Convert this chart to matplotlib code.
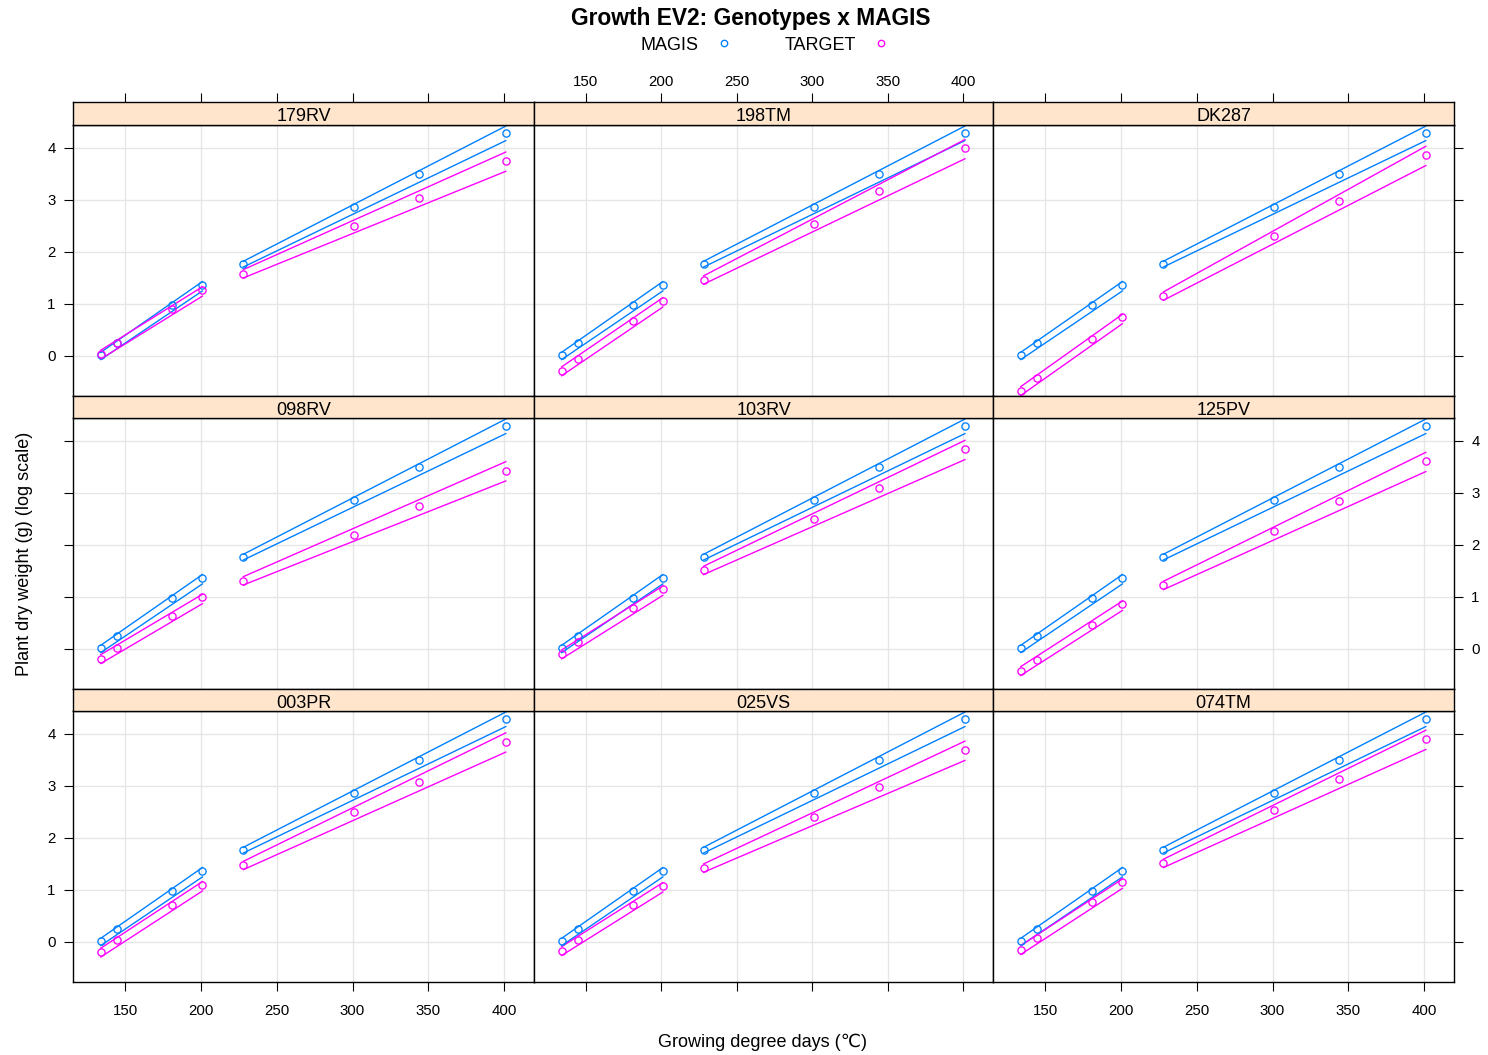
import matplotlib
matplotlib.use("Agg")
import matplotlib.pyplot as plt
from matplotlib import font_manager as fm
import numpy as np

plt.rcParams['font.family'] = ['Liberation Sans', 'DejaVu Sans']

# ---------------- data ----------------
genotypes = ["179RV", "198TM", "DK287",
             "098RV", "103RV", "125PV",
             "003PR", "025VS", "074TM"]
gdd = [134, 145, 181, 201, 228, 301, 344, 401]
magis = [0.02, 0.25, 0.97, 1.37, 1.76, 2.86, 3.49, 4.29]
target_179RV = [0.03, 0.25, 0.90, 1.27, 1.58, 2.50, 3.04, 3.75]
target_198TM = [-0.29, -0.06, 0.67, 1.06, 1.46, 2.53, 3.17, 3.99]
target_DK287 = [-0.67, -0.43, 0.33, 0.74, 1.15, 2.31, 2.97, 3.86]
target_098RV = [-0.19, 0.02, 0.63, 0.99, 1.31, 2.20, 2.75, 3.43]
target_103RV = [-0.10, 0.13, 0.78, 1.15, 1.51, 2.49, 3.09, 3.84]
target_125PV = [-0.42, -0.21, 0.47, 0.86, 1.22, 2.26, 2.84, 3.61]
target_003PR = [-0.20, 0.03, 0.71, 1.10, 1.47, 2.49, 3.08, 3.85]
target_025VS = [-0.17, 0.03, 0.71, 1.08, 1.42, 2.40, 2.97, 3.69]
target_074TM = [-0.15, 0.08, 0.76, 1.15, 1.51, 2.54, 3.13, 3.90]
targets = [target_179RV, target_198TM, target_DK287,
           target_098RV, target_103RV, target_125PV,
           target_003PR, target_025VS, target_074TM]
# interval offsets: [phase1 start, phase1 end, phase2 start, phase2 end]
magis_upper = [0.05, 0.06, 0.06, 0.13]
magis_lower = [-0.09, -0.12, -0.05, -0.15]
target_upper = [0.08, 0.06, 0.08, 0.17]
target_lower = [-0.09, -0.12, -0.08, -0.20]
phases = [(0, 4), (4, 8)]
xticks = [150, 200, 250, 300, 350, 400]
yticks = [0, 1, 2, 3, 4]

# ---------------- style ----------------
BLUE = "#0080ff"
MAG = "#ff00ff"
STRIP = "#ffe5cc"
GRID = "#e6e6e6"
W, H = 1488, 1055
XLIM = (115.7, 419.6)
YLIM = (-0.77, 4.44)
TICK_FS = 10.8
STRIP_FS = 13

# bold title font: make sure the regular-width Liberation Sans Bold is used
title_fp = fm.FontProperties(family='Liberation Sans', weight='bold', size=16.4)
for path in fm.findSystemFonts():
    if path.endswith('LiberationSans-Bold.ttf'):
        title_fp = fm.FontProperties(fname=path, size=16.4)
        break

fig = plt.figure(figsize=(W / 100, H / 100), dpi=100)

cols = [(73, 534), (534, 993), (993, 1454)]
rows = [(102, 125, 396), (396, 418, 689), (689, 711, 982)]


def box(x0, x1, y0, y1):
    return [x0 / W, 1 - y1 / H, (x1 - x0) / W, (y1 - y0) / H]


def style_ticks(ax):
    ax.tick_params(direction='out', length=6.5, width=0.8, labelsize=TICK_FS,
                   colors='black')


for i, g in enumerate(genotypes):
    r, c = divmod(i, 3)
    x0, x1 = cols[c]
    s0, p0, p1 = rows[r]
    ax = fig.add_axes(box(x0, x1, p0, p1))
    sax = fig.add_axes(box(x0, x1, s0, p0))

    ax.set_xlim(*XLIM)
    ax.set_ylim(*YLIM)
    for xv in xticks:
        ax.axvline(xv, color=GRID, lw=1.0, zorder=0)
    for yv in yticks:
        ax.axhline(yv, color=GRID, lw=1.0, zorder=0)

    for ys, up, lo, col in [(magis, magis_upper, magis_lower, BLUE),
                            (targets[i], target_upper, target_lower, MAG)]:
        for k, (a, b) in enumerate(phases):
            xa, xb = gdd[a], gdd[b - 1]
            ya, yb = ys[a], ys[b - 1]
            ax.plot([xa, xb], [ya + up[2 * k], yb + up[2 * k + 1]],
                    color=col, lw=1.0, zorder=2)
            ax.plot([xa, xb], [ya + lo[2 * k], yb + lo[2 * k + 1]],
                    color=col, lw=1.0, zorder=2)
        ax.plot(gdd, ys, linestyle='none', marker='o', ms=5.2, mfc='none',
                mec=col, mew=0.95, zorder=3)

    for sp in ax.spines.values():
        sp.set_linewidth(1.0)
    style_ticks(ax)
    ax.set_xticks(xticks)
    ax.set_yticks(yticks)
    # bottom axis
    if r == 2:
        ax.tick_params(axis='x', bottom=True, labelbottom=(c != 1), pad=9)
    else:
        ax.tick_params(axis='x', bottom=False, labelbottom=False)
    ax.tick_params(axis='x', top=False, labeltop=False)
    # left / right axis
    if c == 0:
        ax.tick_params(axis='y', left=True, labelleft=(r != 1), pad=6)
    else:
        ax.tick_params(axis='y', left=False, labelleft=False)
    if c == 2:
        ax.tick_params(axis='y', right=True, labelright=(r == 1), pad=6)
    else:
        ax.tick_params(axis='y', right=False, labelright=False)

    # strip
    sax.set_facecolor(STRIP)
    sax.set_xlim(*XLIM)
    sax.set_ylim(0, 1)
    sax.set_yticks([])
    for sp in sax.spines.values():
        sp.set_linewidth(1.0)
    sax.text(0.5, 0.36, g, transform=sax.transAxes, ha='center', va='center',
             fontsize=STRIP_FS)
    style_ticks(sax)
    if r == 0:
        sax.set_xticks(xticks)
        sax.tick_params(axis='x', top=True, labeltop=(c == 1), bottom=False,
                        labelbottom=False, pad=3)
    else:
        sax.set_xticks([])

# titles and labels
fig.text(751 / W, 1 - 19 / H, "Growth EV2: Genotypes x MAGIS", ha='center',
         va='center', fontproperties=title_fp)
fig.text(669 / W, 1 - 46 / H, "MAGIS", ha='center', va='center', fontsize=13)
fig.text(820 / W, 1 - 46 / H, "TARGET", ha='center', va='center', fontsize=13)
lax = fig.add_axes([0, 0, 1, 1], facecolor='none')
lax.set_xlim(0, W)
lax.set_ylim(H, 0)
lax.axis('off')
lax.plot([724], [43], linestyle='none', marker='o', ms=4.6, mfc='none', mec=BLUE, mew=0.95)
lax.plot([881], [43], linestyle='none', marker='o', ms=4.6, mfc='none', mec=MAG, mew=0.95)

fig.text(25 / W, 1 - 554 / H, "Plant dry weight (g) (log scale)", rotation=90,
         ha='center', va='center', fontsize=13)
fig.text(762 / W, 1 - 1042 / H, "Growing degree days (\u2103)", ha='center',
         va='center', fontsize=13)

fig.savefig("out.png", dpi=100)
